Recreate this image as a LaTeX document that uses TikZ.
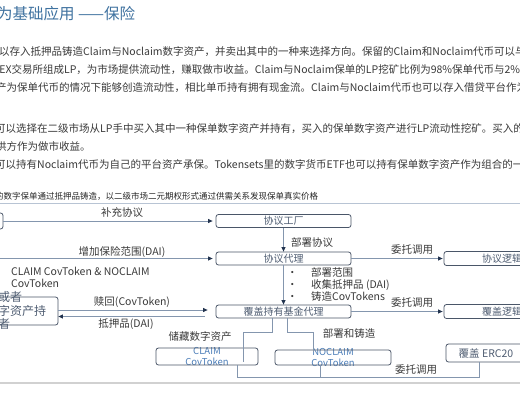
\documentclass[tikz,border=0pt]{standalone}
\usepackage{fontspec}
\newfontfamily\cjk{Noto Sans CJK SC}
\usetikzlibrary{positioning,arrows.meta,calc}

\definecolor{titleblue}{HTML}{3F72A0}
\definecolor{bodygray}{HTML}{3A3A3A}
\definecolor{boxline}{HTML}{4A5668}
\definecolor{boxtext}{HTML}{4F5D72}
\definecolor{linkline}{HTML}{8496AE}
\definecolor{tipnavy}{HTML}{23344F}
\definecolor{tokblue}{HTML}{4B7DB8}
\definecolor{sepblue}{HTML}{B8C4D4}

\begin{document}
\begin{tikzpicture}[
  x=1pt, y=-1pt,
  >={Triangle[length=4.5pt,width=4pt,color=tipnavy]},
  body/.style={anchor=west, inner sep=0, text=bodygray, font=\cjk\fontsize{10.5}{13}\selectfont},
  box/.style={draw=boxline, line width=0.8pt, rounded corners=2.5pt, minimum width=135, minimum height=13, inner sep=0, text=boxtext, font=\cjk\fontsize{10}{12}\selectfont},
  tokbox/.style={draw=boxline, line width=0.8pt, rounded corners=2.5pt, inner sep=0},
  toktext/.style={align=center, inner sep=0, text=tokblue, font=\cjk\fontsize{9.5}{11}\selectfont},
  lbl/.style={inner sep=0, text=bodygray, font=\cjk\fontsize{10.5}{12}\selectfont},
  link/.style={draw=linkline, line width=0.8pt}
]
  \useasboundingbox (0,0) rectangle (520,400);
  \clip (0,0) rectangle (520,400);
  \fill[white] (0,0) rectangle (520,400);

  \node[anchor=west, inner sep=0, text=titleblue, font=\cjk\fontsize{15.5}{18}\selectfont] (title) at (-3,14) {为基础应用 ——保险};

  \node[body] (l1) at (-1,52) {以存入抵押品铸造Claim与Noclaim数字资产，并卖出其中的一种来选择方向。保留的Claim和Noclaim代币可以与美};
  \node[body] (l2) at (-8,70) {DEX交易所组成LP，为市场提供流动性，赚取做市收益。Claim与Noclaim保单的LP挖矿比例为98\%保单代币与2\%美};
  \node[body] (l3) at (-4,88) {产为保单代币的情况下能够创造流动性，相比单币持有拥有现金流。Claim与Noclaim代币也可以存入借贷平台作为抵};
  \node[body] (l4) at (-5,129) {可以选择在二级市场从LP手中买入其中一种保单数字资产并持有，买入的保单数字资产进行LP流动性挖矿。买入的};
  \node[body] (l5) at (-4,146) {供方作为做市收益。};
  \node[body] (l6) at (-5,165) {可以持有Noclaim代币为自己的平台资产承保。Tokensets里的数字货币ETF也可以持有保单数字资产作为组合的一部};
  \node[anchor=west, inner sep=0, text=black!85, font=\cjk\fontsize{8.5}{10}\selectfont] (cap) at (-5,196) {的数字保单通过抵押品铸造，以二级市场二元期权形式通过供需关系发现保单真实价格};

  \draw[sepblue, line width=0.8pt] (0,203) -- (520,203);
  \draw[black!18, line width=2pt] (0,383) -- (520,383);

  \node[box, minimum width=86, minimum height=16] (ins) at (-40,221) {};
  \coordinate (buyer) at (-20,258.5);
  \node[box] (fac) at (283.5,221) {协议工厂};
  \node[box] (prox) at (283.5,258.5) {协议代理};
  \node[box] (fund) at (283.5,311.5) {覆盖持有基金代理};
  \node[box, minimum width=116, minimum height=14] (plog) at (502,258.5) {协议逻辑};
  \node[box, minimum width=116, minimum height=14] (clog) at (502,311.5) {覆盖逻辑};
  \node[box, minimum width=80, minimum height=18, font=\cjk\fontsize{10.5}{12}\selectfont] (erc) at (486,353) {覆盖 ERC20};
  \node[box, minimum width=96, minimum height=28] (hold) at (10,311) {};
  \node[anchor=west, align=left, inner sep=0, text=boxtext, font=\cjk\fontsize{12}{13.5}\selectfont] (holdt) at (-14,310.5) {者或者\\数字资产持\\有者};

  \node[toktext] (clmt) at (207,356.5) {CLAIM\\CovToken};
  \node[tokbox, minimum width=102, minimum height=17] (clm) at (207,356.5) {};
  \node[toktext] (nclmt) at (333,357.5) {NOCLAIM\\CovToken};
  \node[tokbox, minimum width=116, minimum height=15] (nclm) at (333,357.5) {};

  \draw[->, link, shorten >=3pt] (ins) -- (fac);
  \draw[->, link, shorten >=3pt] (buyer) -- (prox);
  \draw[->, link] (fac) -- (prox);
  \draw[->, link] (prox) -- (fund);
  \draw[->, link, shorten >=1pt] (prox) -- (plog);
  \draw[->, link, shorten >=1pt] (fund) -- (clog);
  \draw[->, link] ($(hold.east)+(0,-1)$) -- ($(fund.west)+(-8,-1.5)$);
  \draw[->, link] ($(fund.west)+(-11,5)$) -- ($(hold.east)+(0,5.5)$);
  \draw[link] ($(fund.south)+(-11.5,0)$) -- ++(0,14) -| ($(clm.north)+(36,14)$);
  \draw[link] ($(fund.south)+(3.5,0)$) -- ++(0,14) -| ($(nclm.north)+(-20,2)$);
  \draw[link] ($(clm.south)+(30,0)$) |- ($(erc.south)+(-7,15)$) -- ($(erc.south)+(-7,0)$);
  \draw[link] ($(nclm.south)+(-13,0)$) -- ++(0,12);

  \node[lbl] (add) at (122,213) {补充协议};
  \node[lbl] (cover) at (122,252) {增加保险范围(DAI)};
  \node[lbl, anchor=west, align=left, font=\cjk\fontsize{10.5}{11.5}\selectfont] (tok) at (11,277.5) {CLAIM CovToken \& NOCLAIM\\CovToken};
  \node[lbl, anchor=west] (deploy) at (291,243) {部署协议};
  \node[lbl] (call1) at (412,250) {委托调用};
  \node[lbl, anchor=west, align=left] (steps) at (287,284) {\makebox[24pt][l]{•}部署范围\\\makebox[24pt][l]{•}收集抵押品 (DAI)\\\makebox[24pt][l]{•}铸造CovTokens};
  \node[lbl] (redeem) at (132,302) {赎回(CovToken)};
  \node[lbl] (coll) at (126,324) {抵押品(DAI)};
  \node[lbl] (call2) at (412,303) {委托调用};
  \node[lbl] (store) at (200,337) {储藏数字资产};
  \node[lbl] (mint) at (349,333) {部署和铸造};
  \node[lbl] (call3) at (416,370) {委托调用};
\end{tikzpicture}
\end{document}
